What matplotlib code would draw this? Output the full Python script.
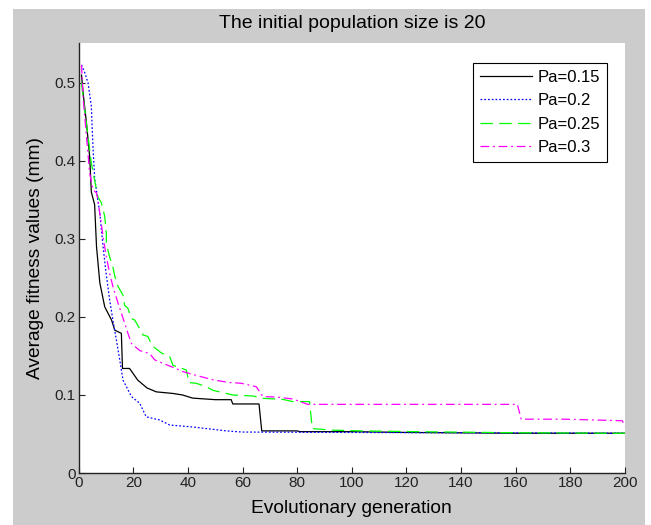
import matplotlib
matplotlib.use("Agg")
import matplotlib.pyplot as plt
from matplotlib.patches import Rectangle

plt.rcParams['font.family'] = ['Liberation Sans', 'DejaVu Sans']

# Pa = 0.15
gen_015 = [1, 1.6, 2.8, 4, 4.6, 5.8, 6.5, 7.7, 9.5, 12, 13.2, 15.6, 16, 18.6, 21.6, 25, 28.4, 34.4, 38,
           41.7, 50, 55.8, 56.4, 66, 67, 80, 81, 100, 120, 160, 200]
fit_015 = [0.51, 0.487, 0.449, 0.405, 0.36, 0.344, 0.29, 0.244, 0.213, 0.196, 0.183, 0.179, 0.134, 0.134,
           0.119, 0.109, 0.104, 0.102, 0.100, 0.096, 0.094, 0.094, 0.0885, 0.0885, 0.054, 0.054, 0.053,
           0.053, 0.052, 0.051, 0.051]

# Pa = 0.2
gen_02 = [1, 2.2, 3.4, 4.6, 5.2, 5.8, 7.7, 8.9, 10, 11.3, 12.5, 13.8, 15, 16.2, 19.3, 22.3, 24.7, 29.6,
          33.3, 41.7, 54, 60, 100, 200]
fit_02 = [0.523, 0.513, 0.5, 0.47, 0.418, 0.378, 0.333, 0.29, 0.256, 0.222, 0.196, 0.17, 0.145, 0.119,
          0.098, 0.0895, 0.072, 0.068, 0.0615, 0.059, 0.054, 0.0525, 0.052, 0.051]

# Pa = 0.25
gen_025 = [1, 1.6, 2.2, 3.4, 4.6, 7, 8.3, 9.5, 10.1, 10.1, 11.3, 12.5, 13.2, 14.4, 16.2, 16.8, 18, 19.3,
           20.5, 22.3, 23.5, 25.3, 26.9, 30.2, 33.3, 34.5, 36.3, 39.4, 40.3, 43, 46.7, 49.1, 52.8, 56.4,
           63.7, 67.4, 74.7, 78.4, 84.5, 85.5, 92.4, 102.7, 123.5, 157.6, 200]
fit_025 = [0.5, 0.482, 0.465, 0.431, 0.397, 0.354, 0.346, 0.329, 0.307, 0.294, 0.277, 0.264, 0.252,
           0.239, 0.228, 0.215, 0.211, 0.198, 0.196, 0.185, 0.177, 0.175, 0.163, 0.154, 0.149, 0.138,
           0.136, 0.132, 0.116, 0.115, 0.1106, 0.106, 0.103, 0.1, 0.0987, 0.0957, 0.0944, 0.0915,
           0.0915, 0.057, 0.055, 0.054, 0.053, 0.0517, 0.0509]

# Pa = 0.3
gen_03 = [1, 1.6, 4, 5.2, 6.5, 7, 7.7, 8.9, 10.1, 11.3, 12.5, 14.4, 15.6, 16.8, 18, 19.3, 22.3, 26, 27.8,
          30.8, 34.5, 38.1, 44.2, 49.7, 55.2, 59.5, 65, 67.4, 72.3, 78.4, 83.8, 160.6, 162, 177.7, 199, 200]
fit_03 = [0.523, 0.48, 0.384, 0.363, 0.359, 0.35, 0.333, 0.303, 0.277, 0.256, 0.239, 0.2175, 0.205,
          0.192, 0.179, 0.166, 0.157, 0.153, 0.145, 0.1406, 0.1355, 0.13, 0.124, 0.119, 0.116, 0.115,
          0.1106, 0.098, 0.0974, 0.0949, 0.088, 0.088, 0.069, 0.069, 0.067, 0.06]

x_ticks = list(range(0, 201, 20))
y_ticks = [0, 0.1, 0.2, 0.3, 0.4, 0.5]
y_tick_labels = ["0", "0.1", "0.2", "0.3", "0.4", "0.5"]

fig = plt.figure(figsize=(6.51, 5.25), dpi=100)
fig.set_facecolor("white")
# grey figure panel, with a thin white margin on the left, top and right
fig.patches.append(Rectangle((13 / 651, 0), 632 / 651, 516 / 525, transform=fig.transFigure,
                             facecolor="#cccccc", edgecolor="none", zorder=-10))

ax = fig.add_axes([0.121, 0.099, 0.839, 0.819])
ax.set_facecolor("white")

lw = 0.9
ax.plot(gen_015, fit_015, color="black", linewidth=lw, label="Pa=0.15")
ax.plot(gen_02, fit_02, color="#0000ff", linewidth=lw, dashes=(1.4, 1.6), label="Pa=0.2")
ax.plot(gen_025, fit_025, color="#00ff00", linewidth=lw, dashes=(10, 5), label="Pa=0.25")
ax.plot(gen_03, fit_03, color="#ff00ff", linewidth=lw, dashes=(7, 3, 1.5, 3), label="Pa=0.3")

ax.set_xlim(0, 200)
ax.set_ylim(0, 0.551)
ax.set_xticks(x_ticks)
ax.set_yticks(y_ticks)
ax.set_yticklabels(y_tick_labels)

for side in ["top", "right"]:
    ax.spines[side].set_visible(False)
for side in ["left", "bottom"]:
    ax.spines[side].set_linewidth(1.0)
    ax.spines[side].set_color("#222222")

ax.tick_params(direction="in", length=4, width=0.8, labelsize=11, colors="#222222", pad=2)

ax.set_title("The initial population size is 20", fontsize=14, pad=10.5)
ax.set_xlabel("Evolutionary generation", fontsize=13.8, labelpad=7)
ax.set_ylabel("Average fitness values (mm)", fontsize=13.8, labelpad=8)

leg = ax.legend(loc="upper right", bbox_to_anchor=(0.967, 0.953), fancybox=False, framealpha=1,
                edgecolor="black", fontsize=12, handlelength=3.1, borderpad=0.4, labelspacing=0.5,
                handletextpad=0.35, borderaxespad=0)
leg.get_frame().set_linewidth(0.8)

fig.savefig("out.png", dpi=100, facecolor=fig.get_facecolor())
